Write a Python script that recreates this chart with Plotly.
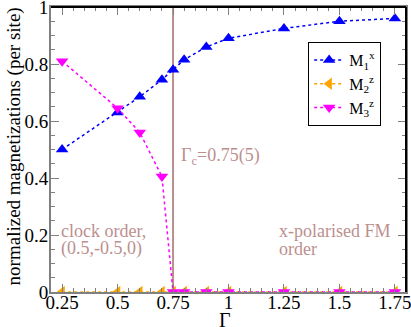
import plotly.graph_objects as go

# Data
gamma = [0.25, 0.5, 0.6, 0.7, 0.75, 0.8, 0.9, 1.0, 1.25, 1.5, 1.75]
m1x = [0.50, 0.63, 0.685, 0.745, 0.78, 0.815, 0.86, 0.89, 0.925, 0.95, 0.96]
m2z = [0, 0, 0, 0, 0, 0, 0, 0, 0, 0, 0]
m3z = [0.81, 0.645, 0.56, 0.405, 0, 0, 0, 0, 0, 0, 0]

gamma_c = 0.75

x_ticks = [0.25, 0.5, 0.75, 1, 1.25, 1.5, 1.75]
x_ticktext = ['0.25', '0.5', '0.75', '1', '1.25', '1.5', '1.75']
y_ticks = [0, 0.2, 0.4, 0.6, 0.8, 1]
y_ticktext = ['0', '0.2', '0.4', '0.6', '0.8', '1']

serif = 'Liberation Serif'
brown = '#bc8f8f'

fig = go.Figure()

fig.add_trace(go.Scatter(x=gamma, y=m1x, mode='lines+markers',
                         name='M<sub>1</sub><sup>x</sup>',
                         line=dict(color='#0000ff', dash='dot', width=1.5),
                         marker=dict(symbol='triangle-up', size=11, color='#0000ff')))
fig.add_trace(go.Scatter(x=gamma, y=m2z, mode='lines+markers',
                         name='M<sub>2</sub><sup>z</sup>',
                         line=dict(color='#ffa500', dash='dot', width=1.5),
                         marker=dict(symbol='triangle-left', size=11, color='#ffa500')))
fig.add_trace(go.Scatter(x=gamma, y=m3z, mode='lines+markers',
                         name='M<sub>3</sub><sup>z</sup>',
                         line=dict(color='#ff00ff', dash='dot', width=1.5),
                         marker=dict(symbol='triangle-down', size=11, color='#ff00ff')))

# critical point
fig.add_shape(type='line', x0=gamma_c, x1=gamma_c, y0=0, y1=1, yref='y',
              line=dict(color=brown, width=2), layer='below')

# black frame on top and right
fig.add_shape(type='line', xref='paper', yref='paper', x0=0, x1=1, y0=1, y1=1,
              line=dict(color='black', width=2))
fig.add_shape(type='line', xref='paper', yref='paper', x0=1, x1=1, y0=0, y1=1,
              line=dict(color='black', width=2))

ann_font = dict(family=serif, size=18, color=brown)
fig.add_annotation(x=0.778, y=0.474, text='Γ<sub>c</sub>=0.75(5)', showarrow=False,
                   xanchor='left', yanchor='middle', font=ann_font)
fig.add_annotation(x=0.235, y=0.215, text='clock order,', showarrow=False,
                   xanchor='left', yanchor='middle', font=ann_font)
fig.add_annotation(x=0.235, y=0.152, text='(0.5,-0.5,0)', showarrow=False,
                   xanchor='left', yanchor='middle', font=ann_font)
fig.add_annotation(x=1.22, y=0.215, text='x-polarised FM', showarrow=False,
                   xanchor='left', yanchor='middle', font=ann_font)
fig.add_annotation(x=1.22, y=0.152, text='order', showarrow=False,
                   xanchor='left', yanchor='middle', font=ann_font)

# axis titles as annotations so they sit where the reference has them
fig.add_annotation(xref='paper', yref='paper', x=0.49, y=-0.097, text='Γ',
                   showarrow=False, xanchor='center', yanchor='middle',
                   font=dict(family=serif, size=20, color='black'))
fig.add_annotation(xref='paper', yref='paper', x=-0.105, y=0.51,
                   text='normalized magnetizations (per site)', textangle=-90,
                   showarrow=False, xanchor='center', yanchor='middle',
                   font=dict(family=serif, size=19, color='black'))

fig.update_xaxes(range=[0.2, 1.8], tickvals=x_ticks, ticktext=x_ticktext,
                 ticks='inside', ticklen=8, tickcolor='#808080', tickwidth=1,
                 minor=dict(dtick=0.05, tick0=0.2, ticks='inside', ticklen=4, tickcolor='#808080'),
                 showline=True, linecolor='#808080', linewidth=2, mirror='allticks',
                 showgrid=False, zeroline=False, automargin=False,
                 ticklabeloverflow='allow', ticklabelstandoff=-8,
                 tickfont=dict(family=serif, size=19, color='black'))
fig.update_yaxes(range=[0, 1], tickvals=y_ticks, ticktext=y_ticktext,
                 ticks='inside', ticklen=8, tickcolor='#808080', tickwidth=1,
                 minor=dict(dtick=0.05, ticks='inside', ticklen=4, tickcolor='#808080'),
                 showline=True, linecolor='#808080', linewidth=2, mirror='allticks',
                 showgrid=False, zeroline=False, automargin=False,
                 ticklabeloverflow='allow', ticklabelstandoff=-3,
                 tickfont=dict(family=serif, size=19, color='black'))

fig.update_layout(width=411, height=327,
                  margin=dict(l=51, r=5, t=7, b=35),
                  plot_bgcolor='white', paper_bgcolor='white',
                  font=dict(family=serif, size=19, color='black'),
                  legend=dict(x=0.93, y=0.877, xanchor='right', yanchor='top',
                              bgcolor='white', bordercolor='black', borderwidth=1,
                              font=dict(family=serif, size=16), itemwidth=30,
                              tracegroupgap=0),
                  showlegend=True)

fig.write_html("out.html", config={'displayModeBar': False},
               post_script="document.body.style.margin='0';")
